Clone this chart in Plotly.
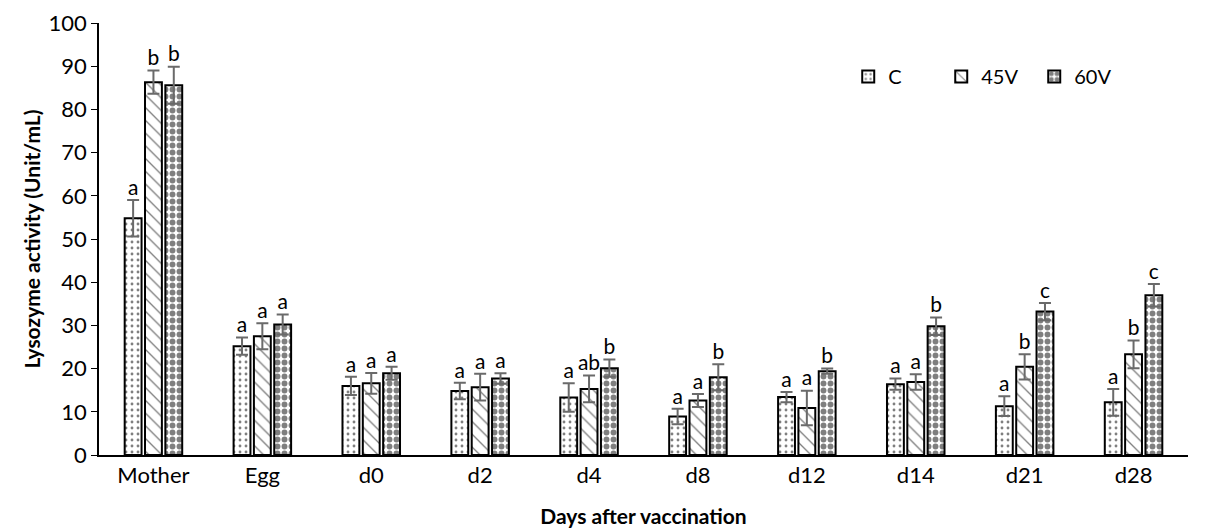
import plotly.graph_objects as go

categories = ["Mother", "Egg", "d0", "d2", "d4", "d8", "d12", "d14", "d21", "d28"]
series_names = ["C", "45V", "60V"]

c_values = [54.8, 25.2, 16.0, 14.8, 13.3, 8.9, 13.4, 16.4, 11.3, 12.2]
c_errors = [4.2, 2.0, 2.1, 1.9, 3.3, 1.8, 1.2, 1.3, 2.3, 3.1]
c_letters = ["a", "a", "a", "a", "a", "a", "a", "a", "a", "a"]

v45_values = [86.3, 27.5, 16.6, 15.7, 15.3, 12.6, 10.9, 16.9, 20.4, 23.3]
v45_errors = [2.7, 3.0, 2.4, 3.1, 3.1, 1.5, 4.0, 1.8, 2.9, 3.2]
v45_letters = ["b", "a", "a", "a", "ab", "a", "a", "a", "b", "b"]

v60_values = [85.6, 30.2, 18.9, 17.7, 20.1, 18.0, 19.4, 29.8, 33.2, 37.0]
v60_errors = [4.3, 2.3, 1.5, 1.2, 2.0, 3.0, 0.6, 2.0, 2.0, 2.6]
v60_letters = ["b", "a", "a", "a", "b", "b", "b", "b", "c", "c"]

values = [c_values, v45_values, v60_values]
errors = [c_errors, v45_errors, v60_errors]
letters = [c_letters, v45_letters, v60_letters]
patterns = [
    dict(shape=".", size=6, solidity=0.18, fgcolor="black", bgcolor="white"),
    dict(shape="\\", size=9, solidity=0.15, fgcolor="black", bgcolor="white"),
    dict(shape=".", size=7, solidity=0.55, fgcolor="black", bgcolor="white"),
]

FONT = "Lato, Carlito, Calibri, sans-serif"
BARGAP = 0.44

fig = go.Figure()
for name, vals, errs, pat in zip(series_names, values, errors, patterns):
    fig.add_trace(go.Bar(
        x=categories, y=vals, name=name, offsetgroup=name,
        marker=dict(color="white", line=dict(color="black", width=2), pattern=pat),
        error_y=dict(type="data", array=errs, visible=True, color="#6a6a6a",
                     thickness=2, width=6),
    ))

for name, vals, errs, lets in zip(series_names, values, errors, letters):
    fig.add_trace(go.Scatter(
        x=categories, y=[v + e for v, e in zip(vals, errs)],
        mode="text", text=lets, textposition="top center",
        textfont=dict(family=FONT, size=21, color="black"),
        offsetgroup=name, showlegend=False, hoverinfo="skip",
    ))

fig.update_layout(
    width=1210, height=529,
    margin=dict(l=91, r=30, t=15, b=82, autoexpand=False),
    paper_bgcolor="white", plot_bgcolor="white",
    barmode="group", bargap=BARGAP, bargroupgap=0.17,
    scattermode="group", scattergap=BARGAP,
    font=dict(family=FONT, size=20, color="black"),
    legend=dict(orientation="h", x=0.688, y=0.876, xanchor="left", yanchor="middle",
                font=dict(family=FONT, size=20, color="black"),
                entrywidth=48, entrywidthmode="pixels", itemwidth=30,
                bgcolor="rgba(0,0,0,0)", traceorder="normal"),
    showlegend=True,
)
fig.update_xaxes(
    showline=True, linecolor="black", linewidth=1.5, ticks="", showgrid=False,
    automargin=False,
    tickfont=dict(family=FONT, size=22),
    title=dict(text="<b>Days after vaccination</b>", font=dict(family=FONT, size=21), standoff=22),
)
fig.update_yaxes(
    range=[0, 100], dtick=10, showline=True, linecolor="black", linewidth=1.5,
    ticks="outside", ticklen=6, tickcolor="black", showgrid=False, zeroline=False,
    automargin=False,
    tickfont=dict(family=FONT, size=22),
    title=dict(text="<b>Lysozyme activity (Unit/mL)</b>", font=dict(family=FONT, size=21), standoff=2),
)

fig.write_html("out.html")
